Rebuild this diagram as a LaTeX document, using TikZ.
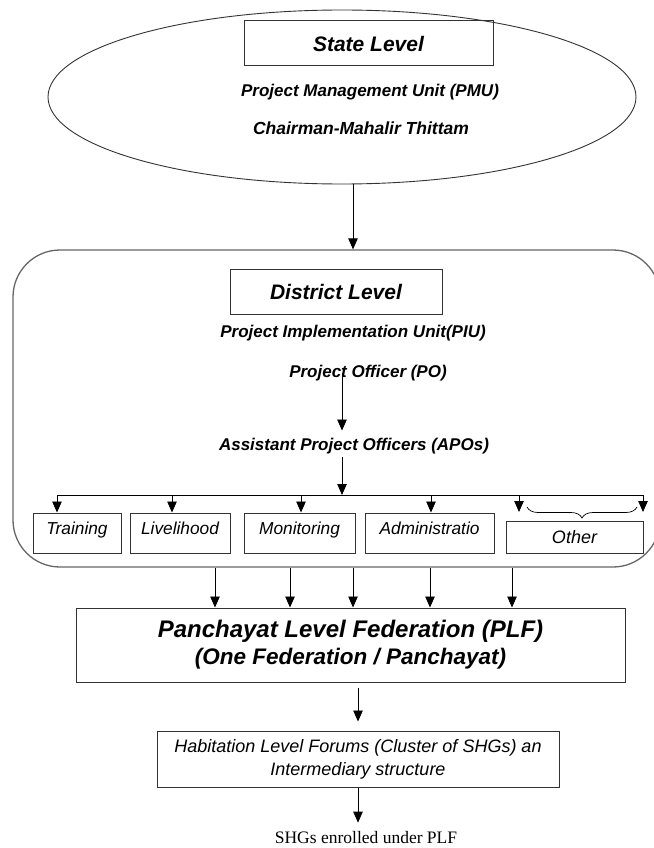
\documentclass[tikz,border=0pt]{standalone}
\usepackage{fontspec}
\setmainfont{Liberation Sans}
\newfontfamily\plainserif{Liberation Serif}
\usetikzlibrary{shapes.geometric,decorations.pathreplacing,arrows.meta}
\tikzset{
  >={Triangle[length=11pt,width=9.5pt]},
  conn/.style={->,line width=0.8pt},
  titlebox/.style={draw=black!80,line width=1pt,inner sep=0pt,font=\fontsize{21}{24}\selectfont\bfseries\itshape},
  headtxt/.style={font=\fontsize{17}{20}\selectfont\bfseries\itshape},
  unitbox/.style={draw=black!80,line width=1pt,inner sep=0pt,minimum height=40,text height=12.5,text depth=10,font=\fontsize{17.3}{20}\selectfont\itshape},
}
\begin{document}
\begin{tikzpicture}[x=1pt,y=-1pt]
\useasboundingbox (0,0) rectangle (653,848);
% state level
\node[draw=black!80,line width=0.9pt,ellipse,inner sep=0pt,minimum width=588,minimum height=174] (state) at (342,97) {};
\node[titlebox,minimum width=249,minimum height=45] (statetitle) at (368.5,43.5) {State Level};
\node[headtxt] (pmu) at (370,92) {Project Management Unit (PMU)};
\node[headtxt,font=\fontsize{17.5}{20}\selectfont\bfseries\itshape] (chair) at (361,128) {Chairman-Mahalir Thittam};
% district level
\node[draw=black!60,line width=1.3pt,rounded corners=47,minimum width=647,minimum height=317] (district) at (336.5,408.5) {};
\node[titlebox,minimum width=212,minimum height=45] (disttitle) at (336,291.5) {District Level};
\node[headtxt] (piu) at (353,333) {Project Implementation Unit(PIU)};
\node[headtxt] (po) at (368,373) {Project Officer (PO)};
\node[headtxt] (apos) at (354,446) {Assistant Project Officers (APOs)};
\node[unitbox,minimum width=88] (training) at (77,533) {Training};
\node[unitbox,minimum width=100] (livelihood) at (180,533) {Livelihood};
\node[unitbox,minimum width=111] (monitoring) at (299.5,533) {Monitoring};
\node[unitbox,minimum width=129] (admin) at (429.5,533) {Administratio};
\node[draw=black!80,line width=1pt,inner sep=0pt,minimum width=137,minimum height=32,font=\fontsize{18}{20}\selectfont\itshape] (other) at (574.5,537) {Other};
\coordinate (spine) at (342,495);
\coordinate (otherl) at (519,512);
\coordinate (otherr) at (643,512);
% federation
\node[draw=black!80,line width=1pt,minimum width=549,minimum height=74,align=center,
  font=\fontsize{24}{27}\selectfont\bfseries\itshape] (plf) at (350.5,645)
  {Panchayat Level Federation (PLF)\\{\fontsize{22.5}{27}\selectfont(One Federation / Panchayat)}};
\node[draw=black!80,line width=1pt,minimum width=402,minimum height=56,align=center,
  font=\fontsize{18}{23}\selectfont\itshape] (hab) at (358,759)
  {Habitation Level Forums (Cluster of SHGs) an\\Intermediary structure};
\node[anchor=base,inner sep=2pt,font=\plainserif\fontsize{17.5}{20}\selectfont] (shgs) at (366,843) {SHGs enrolled under PLF};
% connectors
\draw[conn] (state.south -| piu.center) -- (district.north -| piu.center);
\draw[conn] (po.center -| spine) -- ([yshift=4]apos.north -| spine);
\draw[conn] (apos.south -| spine) -- (spine);
\draw[line width=0.8pt] ([xshift=-20]training.north |- spine) -- (otherr |- spine);
\draw[conn] ([xshift=-20]training.north |- spine) -- ([xshift=-20]training.north);
\draw[conn] ([xshift=-8]livelihood.north |- spine) -- ([xshift=-8]livelihood.north);
\draw[conn] ([xshift=1.5]monitoring.north |- spine) -- ([xshift=1.5]monitoring.north);
\draw[conn] ([xshift=1.5]admin.north |- spine) -- ([xshift=1.5]admin.north);
\draw[conn] (otherl |- spine) -- (otherl);
\draw[conn] (otherr |- spine) -- (otherr);
\draw[line width=0.7pt,decorate,decoration={brace,mirror,amplitude=11}] (527,507) -- (637,507);
\foreach \x [count=\i] in {215,290,353,430,512} {
  \coordinate (drop\i) at (\x,0);
  \draw[conn] (district.south -| drop\i) -- (plf.north -| drop\i);
}
\draw[conn,shorten <=5pt,shorten >=9pt] (plf.south -| hab.north) -- (hab.north);
\draw[conn] (hab.south) -- ([yshift=6]hab.south |- shgs.north);
\end{tikzpicture}
\end{document}
